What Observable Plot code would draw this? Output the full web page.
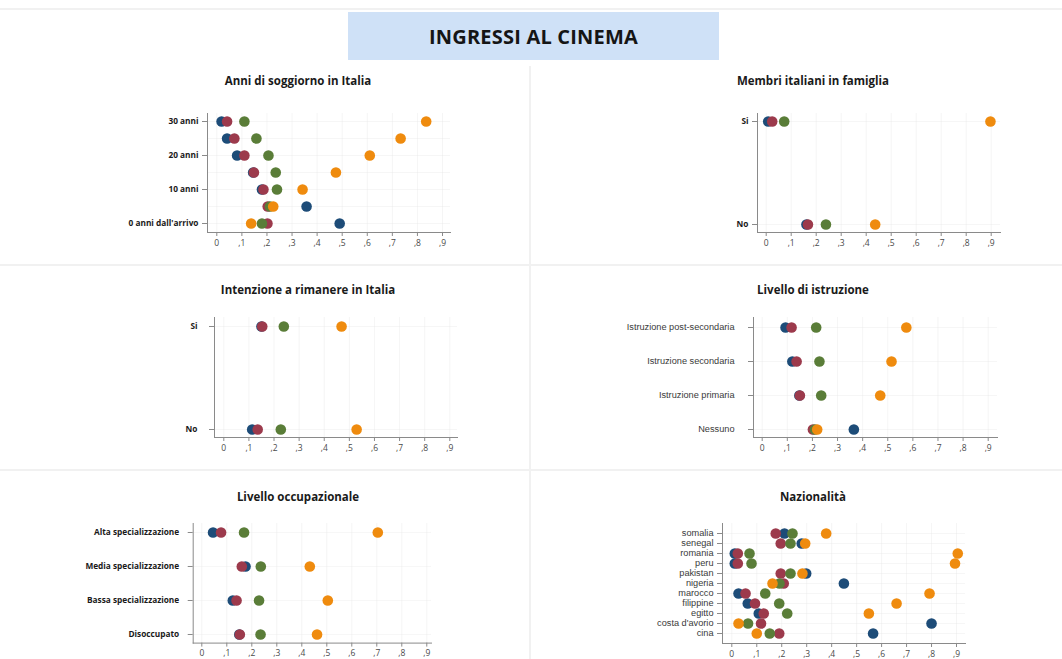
<!DOCTYPE html>
<html>
<head>
<meta charset="utf-8">
<script src="https://cdn.jsdelivr.net/npm/d3@7"></script>
<script src="https://cdn.jsdelivr.net/npm/@observablehq/plot@0.6"></script>
<style>
  html, body { margin: 0; padding: 0; background: #fff; }
  #root { position: relative; width: 1062px; height: 659px; overflow: hidden; background: #fff; font-family: "Open Sans", sans-serif; }
  .sep { position: absolute; background: #f1f1f1; }
  .ptitle { position: absolute; font-family: "Open Sans", sans-serif; font-weight: 700; font-size: 11.5px; color: #1a1a1a; transform: translate(-50%, -50%); white-space: nowrap; }
  .panel { position: absolute; }
  #maintitle { position: absolute; left: 348px; top: 12px; width: 371px; height: 48px; background: #cfe1f7; display: flex; align-items: center; justify-content: center; font-family: "Open Sans", sans-serif; font-weight: 700; font-size: 20px; color: #151515; letter-spacing: 0.2px; }
</style>
</head>
<body>
<div id="root">
  <div class="sep" style="left:0;top:8px;width:1062px;height:2px;"></div>
  <div class="sep" style="left:0;top:264px;width:1062px;height:2px;"></div>
  <div class="sep" style="left:0;top:469px;width:1062px;height:2px;"></div>
  <div class="sep" style="left:529px;top:66px;width:2px;height:593px;"></div>
  <div id="maintitle">INGRESSI AL CINEMA</div>
</div>
<script>
// ---------- data ----------
const seriesNames = ["Serie A", "Serie B", "Serie C", "Serie D"];
const seriesColors = ["#1d4c78", "#9c3a4c", "#5a7d38", "#ef8b0e"];

const xTicks = [0, 0.1, 0.2, 0.3, 0.4, 0.5, 0.6, 0.7, 0.8, 0.9];

// Anni di soggiorno in Italia
const anniRows = ["30", "25", "20", "15", "10", "5", "0"];
const anniLabeled = ["30", "20", "10", "0"];
const anniLabels = {"30": "30 anni", "20": "20 anni", "10": "10 anni", "0": "0 anni dall'arrivo"};
const anniA = [0.019, 0.041, 0.081, 0.145, 0.180, 0.358, 0.490];
const anniB = [0.041, 0.070, 0.110, 0.148, 0.186, 0.203, 0.202];
const anniC = [0.110, 0.158, 0.206, 0.235, 0.240, 0.212, 0.180];
const anniD = [0.835, 0.733, 0.610, 0.475, 0.342, 0.225, 0.137];

// Membri italiani in famiglia
const membriRows = ["Si", "No"];
const membriA = [0.008, 0.161];
const membriB = [0.024, 0.167];
const membriC = [0.072, 0.239];
const membriD = [0.897, 0.436];

// Intenzione a rimanere in Italia
const intenzRows = ["Si", "No"];
const intenzA = [0.150, 0.113];
const intenzB = [0.153, 0.135];
const intenzC = [0.239, 0.227];
const intenzD = [0.469, 0.529];

// Livello di istruzione
const istrRows = ["Istruzione post-secondaria", "Istruzione secondaria", "Istruzione primaria", "Nessuno"];
const istrA = [0.093, 0.120, 0.148, 0.365];
const istrB = [0.117, 0.137, 0.150, 0.202];
const istrC = [0.215, 0.228, 0.235, 0.210];
const istrD = [0.574, 0.515, 0.470, 0.219];

// Livello occupazionale
const occRows = ["Alta specializzazione", "Media specializzazione", "Bassa specializzazione", "Disoccupato"];
const occA = [0.045, 0.175, 0.124, 0.150];
const occB = [0.077, 0.160, 0.139, 0.152];
const occC = [0.169, 0.236, 0.229, 0.235];
const occD = [0.704, 0.432, 0.504, 0.461];

// Nazionalità
const nazRows = ["somalia", "senegal", "romania", "peru", "pakistan", "nigeria", "marocco", "filippine", "egitto", "costa d'avorio", "cina"];
const nazA = [0.211, 0.280, 0.012, 0.012, 0.298, 0.449, 0.027, 0.064, 0.108, 0.800, 0.566];
const nazB = [0.176, 0.196, 0.024, 0.024, 0.196, 0.208, 0.055, 0.093, 0.128, 0.117, 0.190];
const nazC = [0.243, 0.235, 0.071, 0.079, 0.235, 0.191, 0.134, 0.190, 0.222, 0.065, 0.152];
const nazD = [0.378, 0.294, 0.905, 0.894, 0.283, 0.163, 0.792, 0.660, 0.549, 0.027, 0.100];

// ---------- drawing ----------
const root = document.getElementById("root");
const fmtX = d => d === 0 ? "0" : "," + Math.round(d * 10);

function table(rows, arrays) {
  const out = [];
  arrays.forEach((arr, si) => {
    rows.forEach((r, i) => out.push({row: r, value: arr[i], serie: seriesNames[si]}));
  });
  return out;
}

function panel(cfg) {
  const L = cfg.left, W = 530;
  const top = cfg.frameTop - 10;
  const H = cfg.frameBottom - cfg.frameTop + 10 + 24;
  const data = table(cfg.rows, cfg.series);

  const t = document.createElement("div");
  t.className = "ptitle";
  t.style.left = cfg.titleX + "px";
  t.style.top = cfg.titleY + "px";
  t.textContent = cfg.title;
  root.appendChild(t);

  const chart = Plot.plot({
    width: W,
    height: H,
    marginLeft: cfg.yAxisX - L,
    marginRight: L + W - cfg.xEnd,
    marginTop: 10,
    marginBottom: 24,
    style: {background: "transparent", overflow: "visible"},
    x: {domain: [0, 0.9], range: [cfg.x0 - L, cfg.x9 - L]},
    y: {type: "point", padding: 0, domain: cfg.rows, range: [cfg.yFirst - top, cfg.yLast - top]},
    color: {domain: seriesNames, range: seriesColors},
    marks: [
      Plot.gridX(xTicks, {stroke: "#e6e6e6", strokeOpacity: 0.4, strokeWidth: 1}),
      Plot.gridY(cfg.rows, {stroke: "#e6e6e6", strokeOpacity: 0.35, strokeWidth: 1}),
      Plot.frame({anchor: "left", stroke: "#8a8a8a", strokeWidth: 1}),
      Plot.frame({anchor: "bottom", stroke: "#8a8a8a", strokeWidth: 1}),
      Plot.axisX(xTicks, {tickFormat: fmtX, tickSize: 4, tickPadding: 3, stroke: "#8a8a8a", fill: "#4a4a4a", fontSize: 8.5, fontFamily: "Open Sans", label: null}),
      Plot.axisY(cfg.labeled, {
        tickFormat: d => (cfg.labels ? cfg.labels[d] : d),
        tickSize: 5, tickPadding: cfg.pad, stroke: "#8a8a8a",
        fill: cfg.labelFill, fontSize: cfg.labelSize, fontWeight: cfg.labelWeight, fontFamily: cfg.labelFont,
        label: null
      }),
      Plot.dot(data, {x: "value", y: "row", fill: "serie", r: 5.3, stroke: null})
    ]
  });
  chart.classList.add("panel");
  chart.style.left = L + "px";
  chart.style.top = top + "px";
  root.appendChild(chart);
}

const boldLab = {labelFont: "Open Sans", labelWeight: 700, labelSize: 8.3, labelFill: "#1a1a1a", pad: 4};
const thinLab = {labelFont: "Liberation Sans", labelWeight: 400, labelSize: 9.2, labelFill: "#3a3a3a", pad: 4};

panel(Object.assign({
  title: "Anni di soggiorno in Italia", titleX: 298, titleY: 80, left: 0,
  rows: anniRows, labeled: anniLabeled, labels: anniLabels,
  series: [anniA, anniB, anniC, anniD],
  yAxisX: 207, x0: 216.3, x9: 442, xEnd: 450,
  yFirst: 121, yLast: 223, frameTop: 113, frameBottom: 232
}, boldLab));

panel(Object.assign({
  title: "Membri italiani in famiglia", titleX: 813, titleY: 80, left: 531,
  rows: membriRows, labeled: membriRows, labels: null,
  series: [membriA, membriB, membriC, membriD],
  yAxisX: 757, x0: 765.7, x9: 990.7, xEnd: 1000,
  yFirst: 121, yLast: 224, frameTop: 113, frameBottom: 232
}, boldLab));

panel(Object.assign({
  title: "Intenzione a rimanere in Italia", titleX: 308, titleY: 289, left: 0,
  rows: intenzRows, labeled: intenzRows, labels: null,
  series: [intenzA, intenzB, intenzC, intenzD],
  yAxisX: 214, x0: 223.3, x9: 449.3, xEnd: 457,
  yFirst: 326, yLast: 429, frameTop: 317, frameBottom: 437
}, Object.assign({}, boldLab, {pad: 12})));

panel(Object.assign({
  title: "Livello di istruzione", titleX: 813, titleY: 289, left: 531,
  rows: istrRows, labeled: istrRows, labels: null,
  series: [istrA, istrB, istrC, istrD],
  yAxisX: 753, x0: 761.7, x9: 987.7, xEnd: 997,
  yFirst: 326, yLast: 429, frameTop: 317, frameBottom: 437
}, Object.assign({}, thinLab, {pad: 14})));

panel(Object.assign({
  title: "Livello occupazionale", titleX: 298, titleY: 496, left: 0,
  rows: occRows, labeled: occRows, labels: null,
  series: [occA, occB, occC, occD],
  yAxisX: 192.7, x0: 201.3, x9: 426.3, xEnd: 431,
  yFirst: 531.7, yLast: 634, frameTop: 522.7, frameBottom: 642.3
}, Object.assign({}, boldLab, {pad: 9})));

panel(Object.assign({
  title: "Nazionalità", titleX: 813, titleY: 496, left: 531,
  rows: nazRows, labeled: nazRows, labels: null,
  series: [nazA, nazB, nazC, nazD],
  yAxisX: 722, x0: 731.3, x9: 956, xEnd: 965,
  yFirst: 531.7, yLast: 634.3, frameTop: 522.7, frameBottom: 642.7
}, thinLab));
</script>
</body>
</html>
